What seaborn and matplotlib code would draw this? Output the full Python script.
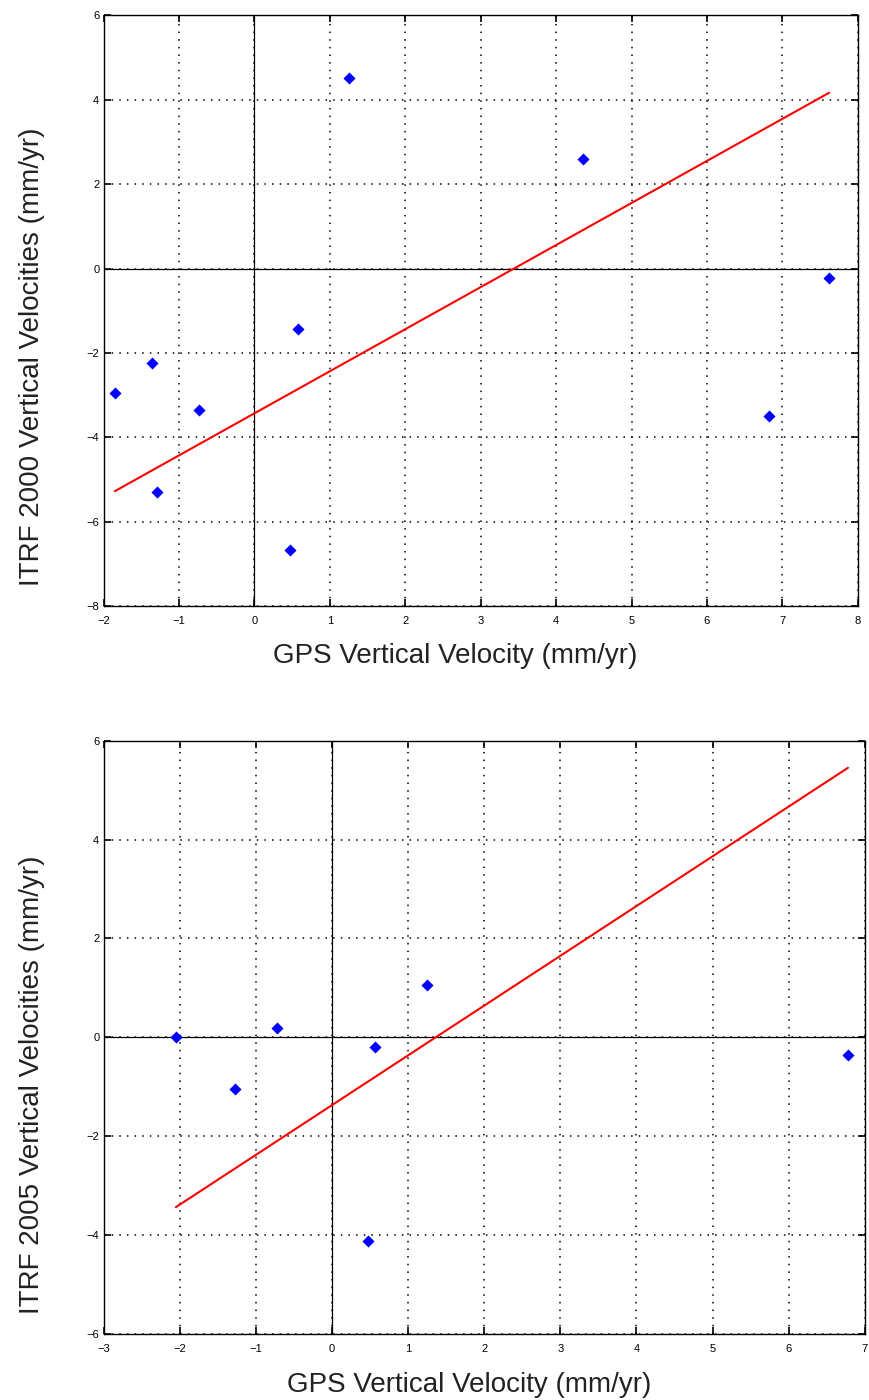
import numpy as np
import matplotlib
matplotlib.use("Agg")
import matplotlib.pyplot as plt
import seaborn as sns

# ── Data ───────────────────────────────────────────────────────────────────
gps_2000  = [-1.85, -1.36, -1.29, -0.73, 0.47, 0.58, 1.26, 4.36, 6.82, 7.62]
itrf_2000 = [-2.94, -2.23, -5.30, -3.34, -6.68, -1.43, 4.52, 2.60, -3.50, -0.22]
fit_2000  = (0.997, -3.43)          # slope, intercept of the red line

gps_2005  = [-2.05, -1.27, -0.72, 0.47, 0.57, 1.25, 6.78]
itrf_2005 = [0.00, -1.04, 0.18, -4.12, -0.20, 1.05, -0.35]
fit_2005  = (1.006, -1.37)

xlim_2000, ylim_2000 = (-2, 8), (-8, 6)
xlim_2005, ylim_2005 = (-3, 7), (-6, 6)
xticks_2000, yticks_2000 = np.arange(-2, 9, 1), np.arange(-8, 7, 2)
xticks_2005, yticks_2005 = np.arange(-3, 8, 1), np.arange(-6, 7, 2)

# ── Style ──────────────────────────────────────────────────────────────────
sns.set_style("white")
plt.rcParams["font.family"] = ["Liberation Sans", "DejaVu Sans"]

fig = plt.figure(figsize=(8.7, 14), dpi=100)
ax1 = fig.add_axes([0.119, 0.567, 0.867, 0.422])
ax2 = fig.add_axes([0.119, 0.047, 0.875, 0.424])


def draw(ax, gx, gy, fit, xlim, ylim, xticks, yticks, ylabel, xl_pos, yl_pos):
    sns.scatterplot(x=gx, y=gy, ax=ax, marker="D", color="#0000ff",
                    s=38, edgecolor="#0000ff", linewidth=0, zorder=4)
    slope, icpt = fit
    lx = np.array([min(gx), max(gx)])
    sns.lineplot(x=lx, y=slope * lx + icpt, ax=ax, color="#ff0000",
                 lw=1.5, zorder=3)
    ax.axhline(0, color="black", lw=0.9, zorder=2)
    ax.axvline(0, color="black", lw=0.9, zorder=2)
    ax.set_xlim(xlim)
    ax.set_ylim(ylim)
    ax.set_xticks(xticks)
    ax.set_yticks(yticks)
    ax.grid(True, ls=(0, (1, 4)), lw=1.1, color="black")
    for sp in ax.spines.values():
        sp.set_color("black")
        sp.set_linewidth(1.0)
    ax.tick_params(direction="in", length=5, width=1.2, top=True, right=True,
                   bottom=True, left=True, labelsize=8, colors="black")
    ax.tick_params(axis="x", pad=7)
    ax.tick_params(axis="y", pad=3)
    ax.set_xlabel("GPS Vertical Velocity (mm/yr)", fontsize=20, color="#222222")
    ax.set_ylabel(ylabel, fontsize=20, color="#222222")
    ax.xaxis.set_label_coords(*xl_pos)
    ax.yaxis.set_label_coords(*yl_pos)


draw(ax1, gps_2000, itrf_2000, fit_2000, xlim_2000, ylim_2000,
     xticks_2000, yticks_2000, "ITRF 2000 Vertical Velocities (mm/yr)",
     (0.466, -0.062), (-0.078, 0.423))
draw(ax2, gps_2005, itrf_2005, fit_2005, xlim_2005, ylim_2005,
     xticks_2005, yticks_2005, "ITRF 2005 Vertical Velocities (mm/yr)",
     (0.48, -0.064), (-0.077, 0.42))

fig.savefig("out.png", dpi=100)
